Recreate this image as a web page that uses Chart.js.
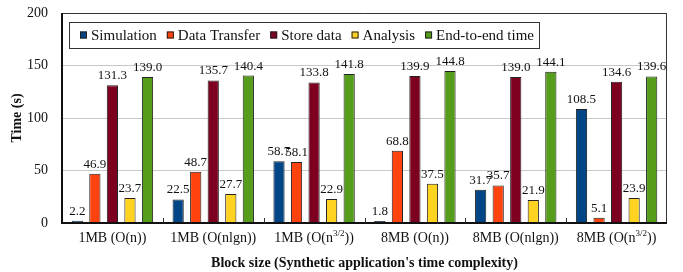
<!DOCTYPE html>
<html>
<head>
<meta charset="utf-8">
<script src="https://cdn.jsdelivr.net/npm/chart.js@4/dist/chart.umd.min.js"></script>
<style>
  html, body { margin: 0; padding: 0; background: #fff; }
  #wrap { width: 683px; height: 272px; }
</style>
</head>
<body>
<div id="wrap"><canvas id="myChart" width="683" height="272"></canvas></div>
<script>
const categories = ['1MB (O(n))', '1MB (O(nlgn))', '1MB (O(n3/2))', '8MB (O(n))', '8MB (O(nlgn))', '8MB (O(n3/2))'];
const simulation = [2.2, 22.5, 58.7, 1.8, 31.7, 108.5];
const dataTransfer = [46.9, 48.7, 58.1, 68.8, 35.7, 5.1];
const storeData = [131.3, 135.7, 133.8, 139.9, 139.0, 134.6];
const analysis = [23.7, 27.7, 22.9, 37.5, 21.9, 23.9];
const endToEnd = [139.0, 140.4, 141.8, 144.8, 144.1, 139.6];
const yTicks = [0, 50, 100, 150, 200];

const FONT = "'Liberation Serif', 'Times New Roman', serif";

// draws value labels, custom x labels, frame and a boxed legend inside the plot
const extras = {
  id: 'extras',
  afterDatasetsDraw(chart) {
    const ctx = chart.ctx;
    ctx.save();
    ctx.font = '13px ' + FONT;
    ctx.fillStyle = '#111';
    ctx.textAlign = 'center';
    ctx.textBaseline = 'bottom';
    chart.data.datasets.forEach((ds, i) => {
      chart.getDatasetMeta(i).data.forEach((el, j) => {
        ctx.fillText(ds.data[j].toFixed(1), el.x, el.y - 3);
      });
    });
    ctx.restore();
  },
  afterDraw(chart) {
    const ctx = chart.ctx;
    const a = chart.chartArea;
    const x = chart.scales.x;
    ctx.save();
    // frame
    ctx.strokeStyle = '#333';
    ctx.lineWidth = 1;
    ctx.beginPath();
    ctx.moveTo(a.left, a.top + 0.5);
    ctx.lineTo(a.right - 0.5, a.top + 0.5);
    ctx.lineTo(a.right - 0.5, a.bottom);
    ctx.stroke();
    ctx.strokeStyle = '#111';
    ctx.lineWidth = 2;
    ctx.beginPath();
    ctx.moveTo(a.left, a.top);
    ctx.lineTo(a.left, a.bottom);
    ctx.lineTo(a.right, a.bottom);
    ctx.stroke();
    // inner tick marks between categories
    ctx.lineWidth = 1;
    ctx.strokeStyle = '#333';
    const w = (a.right - a.left) / categories.length;
    for (let i = 1; i < categories.length; i++) {
      const px = Math.round(a.left + w * i) + 0.5;
      ctx.beginPath();
      ctx.moveTo(px, a.bottom);
      ctx.lineTo(px, a.bottom - 5);
      ctx.stroke();
    }
    // x labels with superscript
    ctx.fillStyle = '#111';
    ctx.textBaseline = 'alphabetic';
    const ly = a.bottom + 19;
    categories.forEach((c, i) => {
      const cx = x.getPixelForValue(i);
      const m = c.match(/^(.*n)3\/2(\)\))$/);
      if (m) {
        ctx.font = '14px ' + FONT;
        const w1 = ctx.measureText(m[1]).width;
        const w3 = ctx.measureText(m[2]).width;
        ctx.font = '9px ' + FONT;
        const w2 = ctx.measureText('3/2').width;
        const sx = cx - (w1 + w2 + w3) / 2;
        ctx.textAlign = 'left';
        ctx.font = '14px ' + FONT;
        ctx.fillText(m[1], sx, ly);
        ctx.font = '9px ' + FONT;
        ctx.fillText('3/2', sx + w1, ly - 6);
        ctx.font = '14px ' + FONT;
        ctx.fillText(m[2], sx + w1 + w2, ly);
      } else {
        ctx.font = '14px ' + FONT;
        ctx.textAlign = 'center';
        ctx.fillText(c, cx, ly);
      }
    });
    // legend
    const bx = a.left + 7, by = a.top + 9, bh = 26;
    ctx.font = '15px ' + FONT;
    ctx.textAlign = 'left';
    ctx.textBaseline = 'middle';
    let cxp = bx + 11;
    const cy = by + bh / 2;
    chart.data.datasets.forEach((d) => {
      ctx.fillStyle = d.backgroundColor;
      ctx.fillRect(cxp, cy - 3.5, 7, 7);
      ctx.strokeStyle = '#222';
      ctx.strokeRect(cxp + 0.5, cy - 3.5 + 0.5, 6, 6);
      ctx.fillStyle = '#111';
      ctx.fillText(d.label, cxp + 11, cy + 1);
      cxp += 11 + ctx.measureText(d.label).width + 10;
    });
    ctx.strokeStyle = '#333';
    ctx.strokeRect(Math.round(bx) + 0.5, Math.round(by) + 0.5, Math.round(cxp - bx - 5), bh);
    ctx.restore();
  }
};

const ctx = document.getElementById('myChart').getContext('2d');
new Chart(ctx, {
  type: 'bar',
  data: {
    labels: categories,
    datasets: [
      { label: 'Simulation', data: simulation, backgroundColor: '#004586' },
      { label: 'Data Transfer', data: dataTransfer, backgroundColor: '#ff420e' },
      { label: 'Store data', data: storeData, backgroundColor: '#7e0021' },
      { label: 'Analysis', data: analysis, backgroundColor: '#ffd320' },
      { label: 'End-to-end time', data: endToEnd, backgroundColor: '#579d1c' }
    ].map(d => Object.assign(d, { borderColor: '#222', borderWidth: 1, categoryPercentage: 0.87, barPercentage: 0.64 }))
  },
  options: {
    responsive: false,
    animation: false,
    layout: { padding: { left: 0, right: 16, top: 13, bottom: 0 } },
    plugins: {
      legend: { display: false },
      tooltip: { enabled: false }
    },
    scales: {
      x: {
        afterFit: (s) => { s.height = 49; s.paddingLeft = 0; s.paddingRight = 0; },
        grid: { display: false },
        border: { display: false },
        ticks: { display: false },
        title: {
          display: true,
          text: "Block size (Synthetic application's time complexity)",
          color: '#111',
          font: { family: FONT, size: 14, weight: 'bold' },
          padding: { top: 0, bottom: 0 }
        }
      },
      y: {
        min: 0,
        max: 200,
        afterFit: (s) => { s.width = 62; s.paddingTop = 0; s.paddingBottom = 0; },
        afterBuildTicks: (axis) => { axis.ticks = yTicks.map(v => ({ value: v })); },
        grid: { color: '#c8c8c8', drawTicks: false },
        border: { display: false },
        ticks: { color: '#111', font: { family: FONT, size: 14 }, padding: 14 },
        title: {
          display: true,
          text: 'Time (s)',
          color: '#111',
          font: { family: FONT, size: 14, weight: 'bold' },
          padding: { top: 9, bottom: 0 }
        }
      }
    }
  },
  plugins: [extras]
});
</script>
</body>
</html>
